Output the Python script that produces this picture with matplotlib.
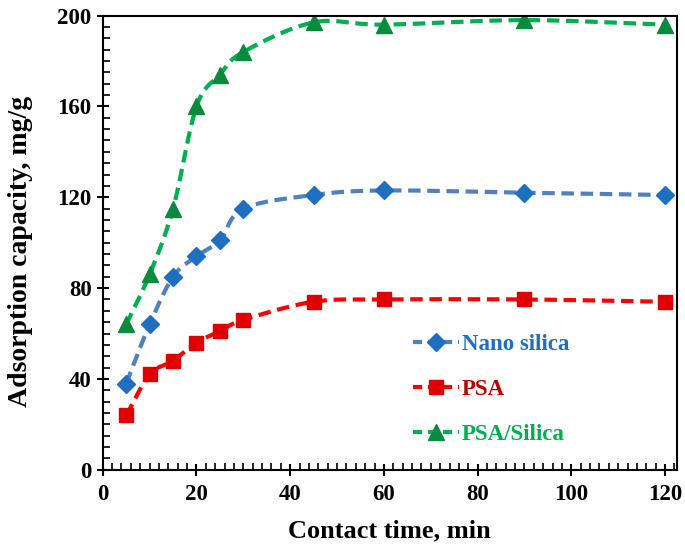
import numpy as np
import matplotlib
matplotlib.use("Agg")
import matplotlib.pyplot as plt
from matplotlib.ticker import MultipleLocator

plt.rcParams['font.family'] = ['Liberation Serif', 'DejaVu Serif']
plt.rcParams['font.weight'] = 'bold'

time = [5, 10, 15, 20, 25, 30, 45, 60, 90, 120]
nano_silica = [38, 64, 85, 94, 101, 115, 121, 123, 122, 121]
psa = [24, 42, 48, 56, 61, 66, 74, 75, 75, 74]
psa_silica = [64, 86, 115, 160, 174, 184, 197, 196, 198, 196]


def smooth(x, y, n=20):
    # Catmull-Rom style smoothing like a spreadsheet "smoothed line"
    x = np.asarray(x, float)
    y = np.asarray(y, float)
    px = np.concatenate([[2 * x[0] - x[1]], x, [2 * x[-1] - x[-2]]])
    py = np.concatenate([[2 * y[0] - y[1]], y, [2 * y[-1] - y[-2]]])
    xs, ys = [], []
    t = np.linspace(0, 1, n)
    for i in range(1, len(px) - 2):
        p0, p1, p2, p3 = [np.array([px[j], py[j]]) for j in range(i - 1, i + 3)]
        for tt in t:
            pt = 0.5 * ((2 * p1) + (-p0 + p2) * tt +
                        (2 * p0 - 5 * p1 + 4 * p2 - p3) * tt ** 2 +
                        (-p0 + 3 * p1 - 3 * p2 + p3) * tt ** 3)
            xs.append(pt[0])
            ys.append(pt[1])
    return xs, ys


fig = plt.figure(figsize=(6.85, 5.56), dpi=100)
ax = fig.add_axes([0.150, 0.155, 0.838, 0.817])

series = [
    ('Nano silica', nano_silica, '#4f81bd', '#1f6fc0', 'D', 9.5, '#1f6fc0'),
    ('PSA', psa, '#ff0000', '#e00000', 's', 10.5, '#c00000'),
    ('PSA/Silica', psa_silica, '#00b050', '#0a8a3c', '^', 12, '#00b050'),
]
handles = []
for name, vals, lc, mc, mk, ms, tc in series:
    sx, sy = smooth(time, vals)
    ax.plot(sx, sy, color=lc, lw=3, ls=(0, (3, 1.6)))
    ax.plot(time, vals, ls='none', marker=mk, ms=ms, color=mc, mec=mc)
    h, = ax.plot([], [], color=lc, lw=3, ls=(0, (2.2, 1.4)), marker=mk, ms=ms,
                 mfc=mc, mec=mc)
    handles.append(h)

leg = ax.legend(handles, [s[0] for s in series], loc='upper left',
                bbox_to_anchor=(0.54, 0.30), frameon=False, fontsize=16.5,
                handlelength=2.0, labelspacing=1.05, handletextpad=0.15,
                borderpad=0, borderaxespad=0)
for txt, s in zip(leg.get_texts(), series):
    txt.set_color(s[6])
    txt.set_fontweight('bold')

ax.set_xlim(0, 122.5)
ax.set_ylim(0, 200)
ax.xaxis.set_major_locator(MultipleLocator(20))
ax.xaxis.set_minor_locator(MultipleLocator(2))
ax.yaxis.set_major_locator(MultipleLocator(40))
ax.yaxis.set_minor_locator(MultipleLocator(5))
ax.tick_params(which='major', direction='inout', length=9, width=1.5, labelsize=16.5)
ax.tick_params(which='minor', direction='in', length=5, width=1.2)
ax.tick_params(axis='x', which='major', pad=6)
for lab in ax.get_xticklabels() + ax.get_yticklabels():
    lab.set_fontweight('bold')
for sp in ax.spines.values():
    sp.set_linewidth(1.5)

ax.set_xlabel('Contact time, min', fontsize=19, fontweight='bold', labelpad=10)
ax.set_ylabel('Adsorption capacity, mg/g', fontsize=20, fontweight='bold')
ax.yaxis.set_label_coords(-0.122, 0.48)

fig.savefig('out.png', dpi=100)
